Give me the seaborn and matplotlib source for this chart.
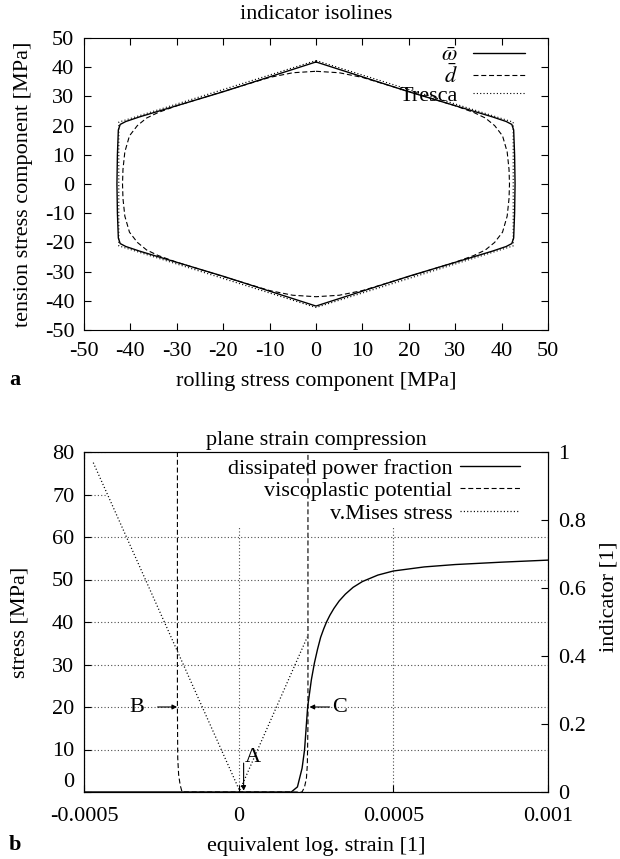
import matplotlib.pyplot as plt
import matplotlib.patches as mpatches
import seaborn as sns

# ---- panel a: indicator isolines, rolling vs tension stress [MPa] ----
omega_x = [0, 20, 38, 41.0, 42.2, 42.6, 42.8, 42.9, 42.8, 42.6, 42.2, 41.0, 38, 20, 0,
           -20, -38, -41.0, -42.2, -42.6, -42.8, -42.9, -42.8, -42.6, -42.2, -41.0, -38, -20, 0]
omega_y = [41.8, 31.6, 23.0, 21.4, 20.4, 18.5, 10, 0, -10, -18.5, -20.4, -21.4, -23.0, -31.6, -41.8,
           -31.6, -23.0, -21.4, -20.4, -18.5, -10, 0, 10, 18.5, 20.4, 21.4, 23.0, 31.6, 41.8]

dbar_x = [0, 5, 10, 20, 30, 34, 36.5, 38.5, 40.2, 41.2, 41.6, 41.7,
          41.6, 41.2, 40.2, 38.5, 36.5, 34, 30, 20, 10, 5, 0,
          -5, -10, -20, -30, -34, -36.5, -38.5, -40.2, -41.2, -41.6, -41.7,
          -41.6, -41.2, -40.2, -38.5, -36.5, -34, -30, -20, -10, -5, 0]
dbar_y = [38.6, 38.1, 36.5, 31.7, 26.8, 24.5, 22.6, 20.0, 16.5, 11, 5, 0,
          -5, -11, -16.5, -20.0, -22.6, -24.5, -26.8, -31.7, -36.5, -38.1, -38.6,
          -38.1, -36.5, -31.7, -26.8, -24.5, -22.6, -20.0, -16.5, -11, -5, 0,
          5, 11, 16.5, 20.0, 22.6, 24.5, 26.8, 31.7, 36.5, 38.1, 38.6]

tresca_x = [0, 42.5, 42.5, 0, -42.5, -42.5, 0]
tresca_y = [42.3, 21.2, -21.2, -42.3, -21.2, 21.2, 42.3]

# ---- panel b: plane strain compression ----
power_strain = [-0.0005, 0.00017, 0.00019, 0.000205, 0.000213, 0.000223, 0.000235, 0.000245,
                0.000255, 0.000265, 0.000275, 0.000284, 0.000295, 0.000308, 0.000325,
                0.000345, 0.00037, 0.0004, 0.00045, 0.0005, 0.0006, 0.0007, 0.00085, 0.001]
power_frac = [0, 0, 0.015, 0.07, 0.124, 0.25, 0.33, 0.38,
              0.42, 0.455, 0.48, 0.50, 0.52, 0.54, 0.562,
              0.582, 0.602, 0.619, 0.638, 0.65, 0.662, 0.669, 0.676, 0.682]

pot_strain = [-0.000198, -0.000198, -0.000197, -0.000194, -0.000189, -0.000183,
              0.000205, 0.000213, 0.000219, 0.000222, 0.000224, 0.000224]
pot_value = [1.0, 0.25, 0.1, 0.05, 0.02, 0, 0, 0.015, 0.04, 0.08, 0.2, 1.0]

mises_strain = [-0.00047, 0.000003, 0.000222]
mises_stress = [77.5, 0.3, 36.5]

sns.set_theme(style="ticks")
plt.rcParams.update({
    "font.family": ["Liberation Serif", "DejaVu Serif"],
    "mathtext.fontset": "stix",
    "font.size": 16,
    "axes.titlesize": 16,
    "axes.labelsize": 16,
    "xtick.labelsize": 16,
    "ytick.labelsize": 16,
    "legend.fontsize": 16,
    "axes.unicode_minus": False,
    "lines.scale_dashes": False,
    "axes.linewidth": 0.8,
    "axes.edgecolor": "black",
    "xtick.color": "black",
    "ytick.color": "black",
    "text.color": "black",
    "axes.labelcolor": "black",
})

DASH = (0, (3.6, 2.0))
DOT = (0, (0.8, 1.6))
W, H = 620, 859

fig = plt.figure(figsize=(6.2, 8.59), dpi=100)

# panel a
ax_a = fig.add_axes([84 / W, 1 - 330 / H, 464 / W, 292 / H])
sns.lineplot(x=omega_x, y=omega_y, sort=False, estimator=None, color="black",
             lw=1.0, ax=ax_a, label=r"$\bar{\omega}$")
sns.lineplot(x=dbar_x, y=dbar_y, sort=False, estimator=None, color="black",
             lw=0.8, linestyle=DASH, ax=ax_a, label=r"$\bar{d}$")
sns.lineplot(x=tresca_x, y=tresca_y, sort=False, estimator=None, color="black",
             lw=0.8, linestyle=DOT, ax=ax_a, label="Tresca")
ax_a.set_xlim(-50, 50)
ax_a.set_ylim(-50, 50)
ax_a.set_xticks(range(-50, 51, 10))
ax_a.set_yticks(range(-50, 51, 10))
ax_a.tick_params(direction="in", top=True, right=True, length=5, width=0.8)
ax_a.tick_params(axis="x", pad=8.5)
ax_a.tick_params(axis="y", pad=7)
ax_a.set_title("indicator isolines", pad=14)
ax_a.set_xlabel("rolling stress component [MPa]", labelpad=8)
ax_a.set_ylabel("tension stress component [MPa]")
ax_a.yaxis.set_label_coords(-0.11, 0.5)
ax_a.legend(loc="upper right", bbox_to_anchor=(0.95, 0.975), markerfirst=False,
            frameon=False, borderaxespad=0, borderpad=0, handlelength=2.34,
            handletextpad=0.68, labelspacing=-0.1)

# panel b
ax_b = fig.add_axes([84 / W, 1 - 792 / H, 464 / W, 340 / H])
ax_b2 = ax_b.twinx()
ax_b.set_axisbelow(True)
ax_b.grid(True, linestyle=DOT, color="0.3", lw=0.8)
ax_b.add_patch(mpatches.Rectangle((-0.00043, 62.3), 0.00143, 18, facecolor="white",
                                  edgecolor="none", zorder=1))

sns.lineplot(x=mises_strain, y=mises_stress, sort=False, estimator=None, color="black",
             lw=0.9, linestyle=DOT, ax=ax_b, label="v.Mises stress", legend=False)
sns.lineplot(x=power_strain, y=power_frac, sort=False, estimator=None, color="black",
             lw=1.0, ax=ax_b2, label="dissipated power fraction", legend=False)
sns.lineplot(x=pot_strain, y=pot_value, sort=False, estimator=None, color="black",
             lw=0.8, linestyle=DASH, ax=ax_b2, label="viscoplastic potential", legend=False)

ax_b.set_xlim(-0.0005, 0.001)
ax_b.set_ylim(0, 80)
ax_b2.set_ylim(0, 1)
ax_b.set_xticks([-0.0005, 0, 0.0005, 0.001], labels=["-0.0005", "0", "0.0005", "0.001"])
ax_b.set_yticks(range(0, 81, 10))
ax_b2.set_yticks([0, 0.2, 0.4, 0.6, 0.8, 1.0], labels=["0", "0.2", "0.4", "0.6", "0.8", "1"])
ax_b.tick_params(direction="in", top=True, right=False, length=5, width=0.8)
ax_b.tick_params(axis="x", pad=11)
ax_b.tick_params(axis="y", pad=7)
ax_b2.tick_params(direction="in", length=5, width=0.8, pad=7)
for sp in ax_b2.spines.values():
    sp.set_color("black")
    sp.set_linewidth(0.8)
ax_b.yaxis.get_major_ticks()[0].label1.set_verticalalignment("bottom")

ax_b.set_title("plane strain compression", pad=5)
ax_b.set_xlabel("equivalent log. strain [1]", labelpad=8)
ax_b.set_ylabel("stress [MPa]")
ax_b.yaxis.set_label_coords(-0.118, 0.5)
ax_b2.set_ylabel("indicator [1]")
ax_b2.yaxis.set_label_coords(1.11, 0.574)

arrow = dict(arrowstyle="-|>", color="black", lw=0.8, mutation_scale=7, shrinkA=0, shrinkB=0)
ax_b.annotate("", xy=(0.000016, 0.3), xytext=(0.000016, 6.8), arrowprops=arrow)
ax_b.text(0.000045, 8.2, "A", ha="center", va="center")
ax_b.annotate("", xy=(-0.000199, 20), xytext=(-0.000262, 20), arrowprops=arrow)
ax_b.text(-0.000329, 20, "B", ha="center", va="center")
ax_b.annotate("", xy=(0.000229, 20), xytext=(0.000294, 20), arrowprops=arrow)
ax_b.text(0.000326, 20, "C", ha="center", va="center")

handles = ax_b2.get_lines()[:2] + ax_b.get_lines()[:1]
labels = ["dissipated power fraction", "viscoplastic potential", "v.Mises stress"]
ax_b2.legend(handles, labels, loc="upper right", bbox_to_anchor=(0.94, 0.982),
             markerfirst=False, frameon=False, borderaxespad=0, borderpad=0,
             handlelength=2.7, handletextpad=0.36, labelspacing=0.09)

fig.text(15 / W, 1 - 380 / H, "a", weight="bold", ha="center", va="center")
fig.text(15 / W, 1 - 845 / H, "b", weight="bold", ha="center", va="center")

fig.savefig("out.png", dpi=100)
